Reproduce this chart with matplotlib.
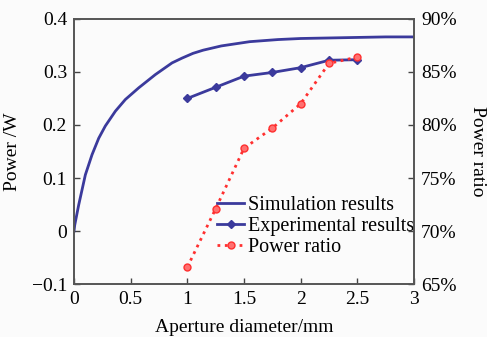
import numpy as np
import matplotlib
matplotlib.use('Agg')
import matplotlib.pyplot as plt
from matplotlib.ticker import FuncFormatter

plt.rcParams.update({
    'font.family': 'serif', 'font.serif': ['Liberation Serif', 'DejaVu Serif'],
    'font.size': 14,
})

# simulated power curve
sim_x = [0, 0.006, 0.041, 0.10, 0.159, 0.218, 0.276, 0.365, 0.453, 0.571,
         0.718, 0.865, 0.953, 1.05, 1.14, 1.3, 1.55, 1.8, 2.0, 2.25, 2.5,
         2.75, 3.0]
sim_y = [0, 0.011, 0.049, 0.106, 0.144, 0.175, 0.198, 0.226, 0.248, 0.270,
         0.295, 0.317, 0.326, 0.335, 0.341, 0.349, 0.357, 0.361, 0.363,
         0.364, 0.365, 0.366, 0.366]

exp_x = [1.0, 1.25, 1.5, 1.75, 2.0, 2.25, 2.5]
exp_y = [0.25, 0.271, 0.292, 0.299, 0.308, 0.322, 0.323]

ratio_y = [66.6, 72.1, 77.8, 79.7, 82.0, 85.8, 86.4]

blue = '#3b3a9c'
red = '#ff3030'

fig = plt.figure(figsize=(4.87, 3.37), dpi=100, facecolor='#fbfbfb')
ax = fig.add_axes([0.152, 0.157, 0.698, 0.787], facecolor='#fbfbfb')
ax2 = ax.twinx()

l1, = ax.plot(sim_x, sim_y, '-', color=blue, lw=2.0, label='Simulation results')
l2, = ax.plot(exp_x, exp_y, '-', color=blue, lw=2.0, marker='D', ms=4,
              label='Experimental results')
l3, = ax2.plot(exp_x, ratio_y, ':', color=red, lw=2.0, marker='o', ms=5,
               mfc='#ff7070', mec=red, label='Power ratio')

ax.set_xlim(0, 3)
ax.set_ylim(-0.1, 0.4)
ax2.set_ylim(65, 90)
ax.set_xticks([0, 0.5, 1, 1.5, 2, 2.5, 3])
ax.set_xticklabels(['0', '0.5', '1', '1.5', '2', '2.5', '3'])
ax.set_yticks([-0.1, 0, 0.1, 0.2, 0.3, 0.4])
ax.set_yticklabels(['\u22120.1', '0', '0.1', '0.2', '0.3', '0.4'])
ax2.set_yticks([65, 70, 75, 80, 85, 90])
ax2.yaxis.set_major_formatter(FuncFormatter(lambda v, p: f'{v:.0f}%'))

for a in (ax, ax2):
    a.tick_params(direction='in', length=4, width=1, color='#444', pad=5,
                  labelsize=14)
    for s in a.spines.values():
        s.set_color('#555')
        s.set_linewidth(1.2)

ax.set_xlabel('Aperture diameter/mm', fontsize=14, labelpad=8)
ax.set_ylabel('Power /W', fontsize=14, labelpad=8)
ax2.set_ylabel('Power ratio', fontsize=14, rotation=270, labelpad=21)

ax.legend(handles=[l1, l2, l3], loc='lower right', bbox_to_anchor=(1.035, 0.055),
          frameon=False, fontsize=14.5, handlelength=1.3, handletextpad=0.2,
          labelspacing=0.1, borderaxespad=0.2)

fig.savefig('out.png', dpi=100, facecolor=fig.get_facecolor())
